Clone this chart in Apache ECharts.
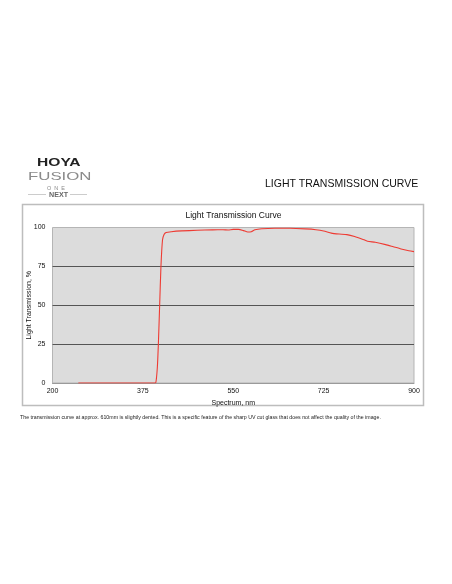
<!DOCTYPE html>
<html>
<head>
<meta charset="utf-8">
<script src="https://cdn.jsdelivr.net/npm/echarts@6/dist/echarts.min.js"></script>
<style>
html,body{margin:0;padding:0;background:#fff;}
#c{width:452px;height:584px;}
</style>
</head>
<body>
<div id="c"></div>
<script>
const wavelengths = [250,300,350,395,400,403,405,407.5,410,413,416,420,430,450,480,510,530,540,550,560,570,578,585,592,605,630,660,690,710,725,740,755,770,785,800,810,825,845,860,875,890,900];
const transmission = [0,0,0,0,0.3,10,25,50,75,92,95.5,96.8,97.3,97.8,98.2,98.5,98.6,98.4,98.8,98.8,98,97.1,97.3,98.5,99.2,99.5,99.5,99.1,98.6,97.8,96.4,95.8,95.4,94.2,92.5,91.2,90.5,89,87.6,86.2,85,84.5];
const xTicks = [200,375,550,725,900];
const yTicks = [0,25,50,75,100];
const headerTitle = 'LIGHT TRANSMISSION CURVE';
const chartTitle = 'Light Transmission Curve';
const xName = 'Spectrum, nm';
const yName = 'Light Transmission, %';
const footnote = 'The transmission curve at approx. 610mm is slightly dented. This is a specific feature of the sharp UV cut glass that does not affect the quality of the image.';

const chart = echarts.init(document.getElementById('c'), null, {renderer:'canvas'});
const F = 'Liberation Sans, Arial, Helvetica, sans-serif';
chart.setOption({
  animation:false,
  backgroundColor:'#fff',
  title:{text:chartTitle,left:233.5,top:211.5,padding:0,textAlign:'center',textStyle:{fontFamily:F,fontSize:8.5,fontWeight:'normal',color:'#111'}},
  graphic:[
    {type:'rect',z:-10,shape:{x:22.5,y:204.5,width:401,height:201},style:{fill:'#fff',stroke:'#bdbdbd',lineWidth:1.5}},
    {type:'text',x:37,y:158.5,scaleX:1.3,scaleY:0.85,style:{text:'HOYA',fontFamily:F,fontSize:12,fontWeight:'bold',fill:'#222'}},
    {type:'text',x:28,y:171.5,scaleX:1.4,scaleY:0.9,style:{text:'FUSION',fontFamily:F,fontSize:12,fontWeight:'normal',fill:'#8a8a8a'}},
    {type:'text',x:47,y:185,style:{text:'O  N  E',fontFamily:F,fontSize:5.5,fill:'#8a8a8a'}},
    {type:'text',x:49,y:191.5,scaleX:1.1,style:{text:'NEXT',fontFamily:F,fontSize:6.5,fontWeight:'bold',fill:'#666'}},
    {type:'line',shape:{x1:28,y1:194.5,x2:46,y2:194.5},style:{stroke:'#aaa',lineWidth:0.6}},
    {type:'line',shape:{x1:70,y1:194.5,x2:87,y2:194.5},style:{stroke:'#aaa',lineWidth:0.6}},
    {type:'text',x:265,y:178.5,style:{text:headerTitle,fontFamily:F,fontSize:10.5,fill:'#111'}},
    {type:'text',x:20,y:415,style:{text:footnote,fontFamily:F,fontSize:5.25,fill:'#222'}}
  ],
  grid:{left:52.5,right:38,top:227.5,bottom:201,show:true,backgroundColor:'#dcdcdc',borderColor:'#b5b5b5',borderWidth:1},
  xAxis:{type:'value',min:200,max:900,interval:175,
    name:xName,nameLocation:'middle',nameGap:16.5,nameTextStyle:{fontFamily:F,fontSize:7,color:'#111'},
    axisLine:{show:true,lineStyle:{color:'#9a9a9a'}},axisTick:{show:false},
    axisLabel:{fontFamily:F,fontSize:7,color:'#111',margin:5,formatter:v=>xTicks.includes(v)?String(v):''},
    splitLine:{show:false}},
  yAxis:{type:'value',min:0,max:100,interval:25,
    name:yName,nameLocation:'middle',nameGap:20,nameMoveOverlap:false,nameTextStyle:{fontFamily:F,fontSize:7,color:'#111'},
    axisLine:{show:false},axisTick:{show:false},
    axisLabel:{fontFamily:F,fontSize:7,color:'#111',margin:7,formatter:v=>yTicks.includes(v)?String(v):''},
    splitLine:{show:true,lineStyle:{color:['transparent','#555','#555','#555','transparent'],width:1}}},
  series:[{type:'line',data:wavelengths.map((w,i)=>[w,transmission[i]]),showSymbol:false,smooth:0.2,
    lineStyle:{color:'#ee3b33',width:1.1}}]
});
</script>
</body>
</html>
